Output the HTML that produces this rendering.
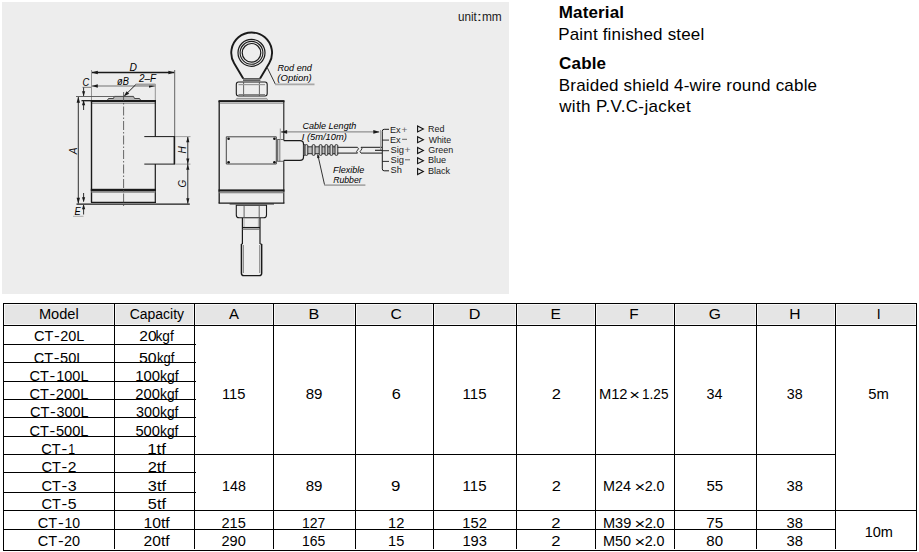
<!DOCTYPE html>
<html><head><meta charset="utf-8"><title>CT Load Cell</title>
<style>html,body{margin:0;padding:0;background:#fff;width:919px;height:552px;overflow:hidden}svg{display:block}text{font-family:"Liberation Sans",sans-serif}</style>
</head><body>
<svg width="919" height="552" viewBox="0 0 919 552" font-family='"Liberation Sans", sans-serif'><rect x="2" y="2" width="507" height="292" fill="#ededed"/>
<rect x="4" y="304" width="110" height="21" fill="#f6f6f6"/>
<rect x="5" y="305" width="108" height="19" fill="#e5e5e5"/>
<rect x="115" y="304" width="79" height="21" fill="#f6f6f6"/>
<rect x="116" y="305" width="77" height="19" fill="#e5e5e5"/>
<rect x="195" y="304" width="78" height="21" fill="#f6f6f6"/>
<rect x="196" y="305" width="76" height="19" fill="#e5e5e5"/>
<rect x="274" y="304" width="81" height="21" fill="#f6f6f6"/>
<rect x="275" y="305" width="79" height="19" fill="#e5e5e5"/>
<rect x="356" y="304" width="77" height="21" fill="#f6f6f6"/>
<rect x="357" y="305" width="75" height="19" fill="#e5e5e5"/>
<rect x="434" y="304" width="82" height="21" fill="#f6f6f6"/>
<rect x="435" y="305" width="80" height="19" fill="#e5e5e5"/>
<rect x="517" y="304" width="78" height="21" fill="#f6f6f6"/>
<rect x="518" y="305" width="76" height="19" fill="#e5e5e5"/>
<rect x="596" y="304" width="78" height="21" fill="#f6f6f6"/>
<rect x="597" y="305" width="76" height="19" fill="#e5e5e5"/>
<rect x="675" y="304" width="81" height="21" fill="#f6f6f6"/>
<rect x="676" y="305" width="79" height="19" fill="#e5e5e5"/>
<rect x="757" y="304" width="78" height="21" fill="#f6f6f6"/>
<rect x="758" y="305" width="76" height="19" fill="#e5e5e5"/>
<rect x="836" y="304" width="80" height="21" fill="#f6f6f6"/>
<rect x="837" y="305" width="78" height="19" fill="#e5e5e5"/>
<rect x="3" y="303" width="914" height="1" fill="#000"/>
<rect x="3" y="325" width="914" height="1" fill="#000"/>
<rect x="3" y="550" width="914" height="1" fill="#000"/>
<rect x="3" y="510" width="914" height="1" fill="#000"/>
<rect x="3" y="344" width="193" height="1" fill="#000"/>
<rect x="3" y="362" width="193" height="1" fill="#000"/>
<rect x="3" y="381" width="193" height="1" fill="#000"/>
<rect x="3" y="399" width="193" height="1" fill="#000"/>
<rect x="3" y="417" width="193" height="1" fill="#000"/>
<rect x="3" y="436" width="193" height="1" fill="#000"/>
<rect x="3" y="472" width="193" height="1" fill="#000"/>
<rect x="3" y="492" width="193" height="1" fill="#000"/>
<rect x="3" y="454" width="833" height="1" fill="#000"/>
<rect x="3" y="529" width="833" height="1" fill="#000"/>
<rect x="3" y="303" width="1" height="248" fill="#000"/>
<rect x="114" y="303" width="1" height="246" fill="#000"/>
<rect x="194" y="303" width="1" height="246" fill="#000"/>
<rect x="273" y="303" width="1" height="246" fill="#000"/>
<rect x="355" y="303" width="1" height="246" fill="#000"/>
<rect x="433" y="303" width="1" height="246" fill="#000"/>
<rect x="516" y="303" width="1" height="246" fill="#000"/>
<rect x="595" y="303" width="1" height="246" fill="#000"/>
<rect x="674" y="303" width="1" height="246" fill="#000"/>
<rect x="756" y="303" width="1" height="246" fill="#000"/>
<rect x="835" y="303" width="1" height="246" fill="#000"/>
<rect x="916" y="303" width="1" height="248" fill="#000"/>
<text x="38.90" y="319" font-size="14" textLength="39.77" lengthAdjust="spacingAndGlyphs">Model</text>
<text x="129.69" y="319" font-size="14" textLength="54.34" lengthAdjust="spacingAndGlyphs">Capacity</text>
<text x="228.97" y="319" font-size="14" textLength="9.96" lengthAdjust="spacingAndGlyphs">A</text>
<text x="308.47" y="319" font-size="14" textLength="10.78" lengthAdjust="spacingAndGlyphs">B</text>
<text x="390.61" y="319" font-size="14" textLength="11.29" lengthAdjust="spacingAndGlyphs">C</text>
<text x="468.67" y="319" font-size="14" textLength="11.71" lengthAdjust="spacingAndGlyphs">D</text>
<text x="550.43" y="319" font-size="14" textLength="10.34" lengthAdjust="spacingAndGlyphs">E</text>
<text x="629.24" y="319" font-size="14" textLength="9.37" lengthAdjust="spacingAndGlyphs">F</text>
<text x="708.81" y="319" font-size="14" textLength="12.15" lengthAdjust="spacingAndGlyphs">G</text>
<text x="789.22" y="319" font-size="14" textLength="11.25" lengthAdjust="spacingAndGlyphs">H</text>
<text x="878.6" y="319" font-size="14" text-anchor="middle">I</text>
<text x="33.96" y="341" font-size="15.4" textLength="19.37" lengthAdjust="spacingAndGlyphs">CT</text>
<text x="54.04" y="341" font-size="15.4" textLength="5.73" lengthAdjust="spacingAndGlyphs">-</text>
<text x="60.17" y="341" font-size="15.4" textLength="24.11" lengthAdjust="spacingAndGlyphs">20L</text>
<text x="139.32" y="341" font-size="15.4" textLength="17.29" lengthAdjust="spacingAndGlyphs">20</text>
<text x="155.48" y="341" font-size="15.4" textLength="18.30" lengthAdjust="spacingAndGlyphs">kgf</text>
<text x="33.76" y="363" font-size="15.4" textLength="19.37" lengthAdjust="spacingAndGlyphs">CT</text>
<text x="53.84" y="363" font-size="15.4" textLength="5.73" lengthAdjust="spacingAndGlyphs">-</text>
<text x="60.12" y="363" font-size="15.4" textLength="24.37" lengthAdjust="spacingAndGlyphs">50L</text>
<text x="138.96" y="363" font-size="15.4" textLength="17.66" lengthAdjust="spacingAndGlyphs">50</text>
<text x="156.92" y="363" font-size="15.4" textLength="17.36" lengthAdjust="spacingAndGlyphs">kgf</text>
<text x="29.56" y="381" font-size="15.4" textLength="19.37" lengthAdjust="spacingAndGlyphs">CT</text>
<text x="49.64" y="381" font-size="15.4" textLength="5.73" lengthAdjust="spacingAndGlyphs">-</text>
<text x="56.19" y="381" font-size="15.4" textLength="32.29" lengthAdjust="spacingAndGlyphs">100L</text>
<text x="135.17" y="381" font-size="15.4" textLength="24.81" lengthAdjust="spacingAndGlyphs">100</text>
<text x="160.06" y="381" font-size="15.4" textLength="18.62" lengthAdjust="spacingAndGlyphs">kgf</text>
<text x="29.56" y="399" font-size="15.4" textLength="19.37" lengthAdjust="spacingAndGlyphs">CT</text>
<text x="49.64" y="399" font-size="15.4" textLength="5.73" lengthAdjust="spacingAndGlyphs">-</text>
<text x="55.76" y="399" font-size="15.4" textLength="32.73" lengthAdjust="spacingAndGlyphs">200L</text>
<text x="135.25" y="399" font-size="15.4" textLength="24.72" lengthAdjust="spacingAndGlyphs">200</text>
<text x="160.08" y="399" font-size="15.4" textLength="18.30" lengthAdjust="spacingAndGlyphs">kgf</text>
<text x="30.06" y="417" font-size="15.4" textLength="19.37" lengthAdjust="spacingAndGlyphs">CT</text>
<text x="50.14" y="417" font-size="15.4" textLength="5.73" lengthAdjust="spacingAndGlyphs">-</text>
<text x="56.45" y="417" font-size="15.4" textLength="32.03" lengthAdjust="spacingAndGlyphs">300L</text>
<text x="135.95" y="417" font-size="15.4" textLength="24.01" lengthAdjust="spacingAndGlyphs">300</text>
<text x="160.08" y="417" font-size="15.4" textLength="18.30" lengthAdjust="spacingAndGlyphs">kgf</text>
<text x="29.56" y="436" font-size="15.4" textLength="19.37" lengthAdjust="spacingAndGlyphs">CT</text>
<text x="49.64" y="436" font-size="15.4" textLength="5.73" lengthAdjust="spacingAndGlyphs">-</text>
<text x="55.91" y="436" font-size="15.4" textLength="32.57" lengthAdjust="spacingAndGlyphs">500L</text>
<text x="135.41" y="436" font-size="15.4" textLength="24.56" lengthAdjust="spacingAndGlyphs">500</text>
<text x="160.08" y="436" font-size="15.4" textLength="18.30" lengthAdjust="spacingAndGlyphs">kgf</text>
<text x="41.36" y="454" font-size="15.4" textLength="19.37" lengthAdjust="spacingAndGlyphs">CT</text>
<text x="61.44" y="454" font-size="15.4" textLength="5.73" lengthAdjust="spacingAndGlyphs">-</text>
<text x="68.16" y="454" font-size="15.4" textLength="6.84" lengthAdjust="spacingAndGlyphs">1</text>
<text x="147.21" y="454" font-size="15.4" textLength="18.76" lengthAdjust="spacingAndGlyphs">1tf</text>
<text x="41.56" y="472" font-size="15.4" textLength="19.37" lengthAdjust="spacingAndGlyphs">CT</text>
<text x="61.64" y="472" font-size="15.4" textLength="5.73" lengthAdjust="spacingAndGlyphs">-</text>
<text x="67.72" y="472" font-size="15.4" textLength="8.67" lengthAdjust="spacingAndGlyphs">2</text>
<text x="147.67" y="472" font-size="15.4" textLength="18.30" lengthAdjust="spacingAndGlyphs">2tf</text>
<text x="41.56" y="491" font-size="15.4" textLength="19.37" lengthAdjust="spacingAndGlyphs">CT</text>
<text x="61.64" y="491" font-size="15.4" textLength="5.73" lengthAdjust="spacingAndGlyphs">-</text>
<text x="67.89" y="491" font-size="15.4" textLength="8.91" lengthAdjust="spacingAndGlyphs">3</text>
<text x="147.88" y="491" font-size="15.4" textLength="18.10" lengthAdjust="spacingAndGlyphs">3tf</text>
<text x="41.56" y="509" font-size="15.4" textLength="19.37" lengthAdjust="spacingAndGlyphs">CT</text>
<text x="61.64" y="509" font-size="15.4" textLength="5.73" lengthAdjust="spacingAndGlyphs">-</text>
<text x="67.87" y="509" font-size="15.4" textLength="8.80" lengthAdjust="spacingAndGlyphs">5</text>
<text x="147.85" y="509" font-size="15.4" textLength="18.13" lengthAdjust="spacingAndGlyphs">5tf</text>
<text x="37.86" y="528" font-size="15.4" textLength="19.37" lengthAdjust="spacingAndGlyphs">CT</text>
<text x="57.94" y="528" font-size="15.4" textLength="5.73" lengthAdjust="spacingAndGlyphs">-</text>
<text x="64.53" y="528" font-size="15.4" textLength="15.62" lengthAdjust="spacingAndGlyphs">10</text>
<text x="143.40" y="528" font-size="15.4" textLength="26.28" lengthAdjust="spacingAndGlyphs">10tf</text>
<text x="37.86" y="546" font-size="15.4" textLength="19.37" lengthAdjust="spacingAndGlyphs">CT</text>
<text x="57.94" y="546" font-size="15.4" textLength="5.73" lengthAdjust="spacingAndGlyphs">-</text>
<text x="64.07" y="546" font-size="15.4" textLength="16.09" lengthAdjust="spacingAndGlyphs">20</text>
<text x="143.61" y="546" font-size="15.4" textLength="26.06" lengthAdjust="spacingAndGlyphs">20tf</text>
<text x="222.03" y="399" font-size="15.4" textLength="23.46" lengthAdjust="spacingAndGlyphs">115</text>
<text x="305.64" y="399" font-size="15.4" textLength="16.77" lengthAdjust="spacingAndGlyphs">89</text>
<text x="391.67" y="399" font-size="15.4" textLength="9.04" lengthAdjust="spacingAndGlyphs">6</text>
<text x="462.61" y="399" font-size="15.4" textLength="23.89" lengthAdjust="spacingAndGlyphs">115</text>
<text x="551.67" y="399" font-size="15.4" textLength="9.16" lengthAdjust="spacingAndGlyphs">2</text>
<text x="706.45" y="399" font-size="15.4" textLength="15.97" lengthAdjust="spacingAndGlyphs">34</text>
<text x="786.76" y="399" font-size="15.4" textLength="15.86" lengthAdjust="spacingAndGlyphs">38</text>
<text x="868.21" y="399" font-size="15.4" textLength="20.57" lengthAdjust="spacingAndGlyphs">5m</text>
<text x="222.12" y="491" font-size="15.4" textLength="23.70" lengthAdjust="spacingAndGlyphs">148</text>
<text x="305.64" y="491" font-size="15.4" textLength="16.77" lengthAdjust="spacingAndGlyphs">89</text>
<text x="391.01" y="491" font-size="15.4" textLength="9.39" lengthAdjust="spacingAndGlyphs">9</text>
<text x="462.61" y="491" font-size="15.4" textLength="23.89" lengthAdjust="spacingAndGlyphs">115</text>
<text x="551.67" y="491" font-size="15.4" textLength="9.16" lengthAdjust="spacingAndGlyphs">2</text>
<text x="706.40" y="491" font-size="15.4" textLength="16.73" lengthAdjust="spacingAndGlyphs">55</text>
<text x="786.44" y="491" font-size="15.4" textLength="16.40" lengthAdjust="spacingAndGlyphs">38</text>
<text x="221.47" y="528" font-size="15.4" textLength="24.35" lengthAdjust="spacingAndGlyphs">215</text>
<text x="302.03" y="528" font-size="15.4" textLength="23.37" lengthAdjust="spacingAndGlyphs">127</text>
<text x="388.08" y="528" font-size="15.4" textLength="16.36" lengthAdjust="spacingAndGlyphs">12</text>
<text x="462.37" y="528" font-size="15.4" textLength="24.67" lengthAdjust="spacingAndGlyphs">152</text>
<text x="551.26" y="528" font-size="15.4" textLength="9.28" lengthAdjust="spacingAndGlyphs">2</text>
<text x="706.22" y="528" font-size="15.4" textLength="16.92" lengthAdjust="spacingAndGlyphs">75</text>
<text x="786.44" y="528" font-size="15.4" textLength="16.40" lengthAdjust="spacingAndGlyphs">38</text>
<text x="221.47" y="546" font-size="15.4" textLength="24.30" lengthAdjust="spacingAndGlyphs">290</text>
<text x="302.04" y="546" font-size="15.4" textLength="23.25" lengthAdjust="spacingAndGlyphs">165</text>
<text x="388.09" y="546" font-size="15.4" textLength="16.22" lengthAdjust="spacingAndGlyphs">15</text>
<text x="462.38" y="546" font-size="15.4" textLength="24.57" lengthAdjust="spacingAndGlyphs">193</text>
<text x="551.26" y="546" font-size="15.4" textLength="9.28" lengthAdjust="spacingAndGlyphs">2</text>
<text x="706.35" y="546" font-size="15.4" textLength="16.74" lengthAdjust="spacingAndGlyphs">80</text>
<text x="786.44" y="546" font-size="15.4" textLength="16.40" lengthAdjust="spacingAndGlyphs">38</text>
<text x="598.89" y="399" font-size="15.4" textLength="28.65" lengthAdjust="spacingAndGlyphs">M12</text>
<text x="629.32" y="400" font-size="15.4" textLength="10.74" lengthAdjust="spacingAndGlyphs">×</text>
<text x="642.07" y="399" font-size="15.4" textLength="26.40" lengthAdjust="spacingAndGlyphs">1.25</text>
<text x="603.02" y="491" font-size="15.4" textLength="28.00" lengthAdjust="spacingAndGlyphs">M24</text>
<text x="634.52" y="491.8" font-size="15.4" textLength="10.74" lengthAdjust="spacingAndGlyphs">×</text>
<text x="644.68" y="491" font-size="15.4" textLength="19.88" lengthAdjust="spacingAndGlyphs">2.0</text>
<text x="603.01" y="528" font-size="15.4" textLength="28.28" lengthAdjust="spacingAndGlyphs">M39</text>
<text x="634.52" y="528.8" font-size="15.4" textLength="10.74" lengthAdjust="spacingAndGlyphs">×</text>
<text x="644.68" y="528" font-size="15.4" textLength="19.88" lengthAdjust="spacingAndGlyphs">2.0</text>
<text x="603.01" y="546" font-size="15.4" textLength="28.15" lengthAdjust="spacingAndGlyphs">M50</text>
<text x="634.52" y="546.8" font-size="15.4" textLength="10.74" lengthAdjust="spacingAndGlyphs">×</text>
<text x="644.68" y="546" font-size="15.4" textLength="19.88" lengthAdjust="spacingAndGlyphs">2.0</text>
<text x="864.69" y="537" font-size="15.4" textLength="28.26" lengthAdjust="spacingAndGlyphs">10m</text>
<text x="558.74" y="17.6" font-size="17" font-weight="bold" textLength="65.28" lengthAdjust="spacing">Material</text>
<text x="558.17" y="39.6" font-size="17" textLength="146.09" lengthAdjust="spacing">Paint finished steel</text>
<text x="559.09" y="68.8" font-size="17" font-weight="bold" textLength="47.00" lengthAdjust="spacing">Cable</text>
<text x="558.77" y="90.5" font-size="17" textLength="258.30" lengthAdjust="spacing">Braided shield 4-wire round cable</text>
<text x="559.13" y="112.3" font-size="17" textLength="131.50" lengthAdjust="spacing">with P.V.C-jacket</text>
<text x="458.04" y="20.9" font-size="13" fill="#1a1a1a" textLength="18.84" lengthAdjust="spacingAndGlyphs">unit</text>
<text x="476.87" y="20.9" font-size="13" fill="#1a1a1a" textLength="5.25" lengthAdjust="spacingAndGlyphs">:</text>
<text x="481.91" y="20.9" font-size="13" fill="#1a1a1a" textLength="19.88" lengthAdjust="spacingAndGlyphs">mm</text>
<line x1="91.5" y1="70" x2="91.5" y2="101" stroke="#8a8a8a" stroke-width="0.9"/>
<line x1="174.7" y1="70" x2="174.7" y2="137" stroke="#555" stroke-width="0.9"/>
<line x1="92" y1="72.5" x2="174.2" y2="72.5" stroke="#1a1a1a" stroke-width="1.3"/>
<polygon points="91.8,72.5 97.80,70.70 97.80,74.30" fill="#1a1a1a"/>
<polygon points="174.4,72.5 168.40,74.30 168.40,70.70" fill="#1a1a1a"/>
<text x="129.58" y="70.9" font-size="10" font-style="italic" textLength="7.45" lengthAdjust="spacingAndGlyphs">D</text>
<line x1="92" y1="86" x2="155.3" y2="86" stroke="#9a9a9a" stroke-width="1.6"/>
<polygon points="91.8,86 97.80,84.20 97.80,87.80" fill="#1a1a1a"/>
<polygon points="155.0,86 149.00,87.80 149.00,84.20" fill="#1a1a1a"/>
<line x1="155.3" y1="84" x2="155.3" y2="101" stroke="#8a8a8a" stroke-width="0.9"/>
<text x="117.00" y="84.5" font-size="10" font-style="italic" textLength="11.81" lengthAdjust="spacingAndGlyphs">øB</text>
<text x="139.06" y="82.2" font-size="10" font-style="italic" textLength="17.08" lengthAdjust="spacingAndGlyphs">2–F</text>
<line x1="135.8" y1="84.6" x2="155.3" y2="84.6" stroke="#a0a0a0" stroke-width="2.2"/>
<line x1="135.8" y1="84.6" x2="125.5" y2="94.8" stroke="#1a1a1a" stroke-width="1.0"/>
<polygon points="123.6,96.6 126.69,91.15 129.18,93.75" fill="#1a1a1a"/>
<text x="82.38" y="86.3" font-size="10" font-style="italic" textLength="6.77" lengthAdjust="spacingAndGlyphs">C</text>
<line x1="82.5" y1="87.3" x2="91" y2="87.3" stroke="#777" stroke-width="1.0"/>
<line x1="83.6" y1="87.5" x2="83.6" y2="96" stroke="#1a1a1a" stroke-width="0.9"/>
<polygon points="83.6,96.3 82.00,91.30 85.20,91.30" fill="#1a1a1a"/>
<line x1="83.6" y1="101" x2="83.6" y2="110" stroke="#1a1a1a" stroke-width="0.9"/>
<polygon points="83.6,100.3 85.20,105.30 82.00,105.30" fill="#1a1a1a"/>
<line x1="76" y1="96.5" x2="114" y2="96.5" stroke="#555" stroke-width="0.9"/>
<line x1="81.5" y1="100.7" x2="92" y2="100.7" stroke="#1a1a1a" stroke-width="1.3"/>
<line x1="78.3" y1="97" x2="78.3" y2="203.5" stroke="#1a1a1a" stroke-width="0.9"/>
<polygon points="78.3,96.8 80.00,102.80 76.60,102.80" fill="#1a1a1a"/>
<polygon points="78.3,203.8 76.60,197.80 80.00,197.80" fill="#1a1a1a"/>
<g transform="translate(77.2 151) rotate(-90)"><text x="0" y="0" font-size="10" text-anchor="middle" font-style="italic" fill="#111">A</text></g>
<rect x="90.8" y="100" width="65.2" height="2.2" fill="#1a1a1a"/>
<line x1="91.5" y1="103.5" x2="155.3" y2="103.5" stroke="#9c9c9c" stroke-width="1.0"/>
<line x1="91.5" y1="101" x2="91.5" y2="202.5" stroke="#1a1a1a" stroke-width="1.4"/>
<line x1="155.3" y1="101" x2="155.3" y2="136.5" stroke="#1a1a1a" stroke-width="1.2"/>
<line x1="155.3" y1="164" x2="155.3" y2="202.5" stroke="#1a1a1a" stroke-width="1.2"/>
<polyline points="107.5,100 108.5,98.5 113.5,98.5 114.3,96.4 133.5,96.4 134.5,98.5 139.5,98.5 140.5,100" stroke="#333" stroke-width="0.9" fill="#b8b8b8" stroke-linejoin="round"/>
<rect x="90.8" y="188.8" width="65.2" height="2.2" fill="#1a1a1a"/>
<rect x="91.5" y="191" width="63.8" height="1.8" fill="#8a8a8a"/>
<line x1="91" y1="202.4" x2="156" y2="202.4" stroke="#1a1a1a" stroke-width="1.4"/>
<line x1="76.5" y1="204.2" x2="189.8" y2="204.2" stroke="#1a1a1a" stroke-width="1.2"/>
<line x1="123.6" y1="92" x2="123.6" y2="208" stroke="#444" stroke-width="0.8" stroke-dasharray="9,2,1.5,2"/>
<line x1="144.3" y1="136.6" x2="175" y2="136.6" stroke="#1a1a1a" stroke-width="1.0"/>
<line x1="144.3" y1="164.1" x2="175" y2="164.1" stroke="#1a1a1a" stroke-width="1.0"/>
<line x1="174.4" y1="136.6" x2="174.4" y2="164.1" stroke="#1a1a1a" stroke-width="1.6"/>
<line x1="175" y1="136.6" x2="190.5" y2="136.6" stroke="#8a8a8a" stroke-width="0.8"/>
<line x1="175" y1="164.1" x2="190.5" y2="164.1" stroke="#8a8a8a" stroke-width="0.8"/>
<line x1="187.8" y1="137" x2="187.8" y2="203.5" stroke="#1a1a1a" stroke-width="0.9"/>
<polygon points="187.8,136.8 189.40,142.30 186.20,142.30" fill="#1a1a1a"/>
<polygon points="187.8,163.9 186.20,158.40 189.40,158.40" fill="#1a1a1a"/>
<polygon points="187.8,164.3 189.40,169.80 186.20,169.80" fill="#1a1a1a"/>
<polygon points="187.8,203.8 186.20,198.30 189.40,198.30" fill="#1a1a1a"/>
<g transform="translate(186.2 150) rotate(-90)"><text x="0" y="0" font-size="10" text-anchor="middle" font-style="italic" fill="#111">H</text></g>
<g transform="translate(186.3 183.6) rotate(-90)"><text x="0" y="0" font-size="10" text-anchor="middle" font-style="italic" fill="#111">G</text></g>
<line x1="83.6" y1="193" x2="83.6" y2="201.5" stroke="#1a1a1a" stroke-width="0.9"/>
<polygon points="83.6,202.2 82.00,197.20 85.20,197.20" fill="#1a1a1a"/>
<line x1="83.6" y1="205" x2="83.6" y2="214.5" stroke="#1a1a1a" stroke-width="0.9"/>
<polygon points="83.6,204.3 85.20,209.30 82.00,209.30" fill="#1a1a1a"/>
<text x="74.51" y="215" font-size="10" font-style="italic" textLength="6.20" lengthAdjust="spacingAndGlyphs">E</text>
<line x1="73" y1="216.3" x2="83.5" y2="216.3" stroke="#aaa" stroke-width="1.0"/>
<path d="M 243.2,78.6 L 234.12,63.33 A 20.4 20.4 0 1 1 269.18,63.33 L 260.1,78.6" stroke="#1a1a1a" stroke-width="1.9" fill="none"/>
<line x1="243" y1="78.8" x2="260.4" y2="78.8" stroke="#1a1a1a" stroke-width="1.0"/>
<line x1="243" y1="80.2" x2="260.4" y2="80.2" stroke="#222" stroke-width="1.0"/>
<circle cx="251.5" cy="52.8" r="13.5" stroke="#1a1a1a" stroke-width="1.2" fill="none"/>
<circle cx="251.5" cy="52.8" r="11.4" stroke="#1a1a1a" stroke-width="1.1" fill="none"/>
<circle cx="251.5" cy="52.8" r="9.3" stroke="#1a1a1a" stroke-width="1.2" fill="none"/>
<path d="M 238.5,82 L 265,82 Q 267.2,82 267.2,84.5 L 267.2,93.5 Q 267.2,96 265,96 L 238.5,96 Q 236.3,96 236.3,93.5 L 236.3,84.5 Q 236.3,82 238.5,82 Z" stroke="#1a1a1a" stroke-width="1.1" fill="#ededed"/>
<line x1="243.6" y1="82" x2="243.6" y2="96" stroke="#555" stroke-width="0.9"/>
<line x1="259.4" y1="82" x2="259.4" y2="96" stroke="#555" stroke-width="0.9"/>
<polyline points="235.8,99.9 236.8,98.4 266.7,98.4 267.7,99.9" stroke="#777" stroke-width="0.7" fill="#c8c8c8" stroke-linejoin="round"/>
<line x1="238.5" y1="84.6" x2="265" y2="84.6" stroke="#999" stroke-width="1.2"/>
<line x1="238.5" y1="94.5" x2="265" y2="94.5" stroke="#777" stroke-width="0.9"/>
<rect x="218.5" y="100.1" width="66" height="2.1" fill="#1a1a1a"/>
<line x1="220" y1="103.4" x2="283" y2="103.4" stroke="#999" stroke-width="0.9"/>
<line x1="219.2" y1="101" x2="219.2" y2="203.3" stroke="#1a1a1a" stroke-width="1.3"/>
<line x1="283.8" y1="101" x2="283.8" y2="140.6" stroke="#1a1a1a" stroke-width="1.1"/>
<line x1="283.8" y1="160.4" x2="283.8" y2="203.3" stroke="#1a1a1a" stroke-width="1.1"/>
<rect x="218.5" y="189.4" width="66" height="2.2" fill="#1a1a1a"/>
<rect x="219.5" y="191.6" width="64" height="1.7" fill="#8c8c8c"/>
<line x1="218.6" y1="203.2" x2="284.4" y2="203.2" stroke="#1a1a1a" stroke-width="1.3"/>
<path d="M 226.3,136.8 L 276.3,136.8 L 276.3,164 L 226.3,164 Z" stroke="#333" stroke-width="0.9" fill="none"/>
<circle cx="228.6" cy="138.8" r="1.3" fill="#111"/>
<circle cx="274.4" cy="138.8" r="1.3" fill="#111"/>
<circle cx="228.6" cy="162.2" r="1.3" fill="#111"/>
<circle cx="274.4" cy="162.2" r="1.3" fill="#111"/>
<rect x="277.3" y="139.5" width="3.2" height="21.8" fill="#c8c8c8"/>
<line x1="277.5" y1="139.5" x2="277.5" y2="161.3" stroke="#555" stroke-width="0.8"/>
<line x1="279.7" y1="139.5" x2="279.7" y2="161.3" stroke="#9a9a9a" stroke-width="1.2"/>
<line x1="277.3" y1="139.5" x2="284" y2="139.5" stroke="#444" stroke-width="0.8"/>
<line x1="277.3" y1="161.3" x2="284" y2="161.3" stroke="#444" stroke-width="0.8"/>
<path d="M 283.8,140.6 L 300,140.6 Q 303.5,140.6 303.5,144 L 303.5,157 Q 303.5,160.4 300,160.4 L 283.8,160.4" stroke="#1a1a1a" stroke-width="1.2" fill="#ededed"/>
<path d="M 303.5,145.2 L 305,144.4 L 305,155.6 L 303.5,154.8 Z" stroke="#333" stroke-width="0.8" fill="#cfcfcf"/>
<rect x="305" y="146.8" width="32.5" height="6.9" fill="#bdbdbd"/>
<line x1="305" y1="146.8" x2="337.5" y2="146.8" stroke="#222" stroke-width="0.9"/>
<line x1="305" y1="153.7" x2="337.5" y2="153.7" stroke="#222" stroke-width="0.9"/>
<rect x="305.0" y="144.6" width="2.8" height="10.8" rx="1.2" fill="#d6d6d6" stroke="#1e1e1e" stroke-width="0.9"/>
<rect x="312.2" y="144.6" width="2.8" height="10.8" rx="1.2" fill="#d6d6d6" stroke="#1e1e1e" stroke-width="0.9"/>
<rect x="319.2" y="144.6" width="2.8" height="10.8" rx="1.2" fill="#d6d6d6" stroke="#1e1e1e" stroke-width="0.9"/>
<rect x="325.0" y="144.6" width="2.8" height="10.8" rx="1.2" fill="#d6d6d6" stroke="#1e1e1e" stroke-width="0.9"/>
<rect x="330.0" y="144.6" width="2.8" height="10.8" rx="1.2" fill="#d6d6d6" stroke="#1e1e1e" stroke-width="0.9"/>
<rect x="335.0" y="144.6" width="2.8" height="10.8" rx="1.2" fill="#d6d6d6" stroke="#1e1e1e" stroke-width="0.9"/>
<line x1="337.7" y1="147.3" x2="357.5" y2="147.3" stroke="#1a1a1a" stroke-width="1.0"/>
<line x1="337.7" y1="153.1" x2="357.5" y2="153.1" stroke="#1a1a1a" stroke-width="1.0"/>
<path d="M 357.5,147.3 q 2,1.5 0,2.9 q -2,1.5 0,2.9" stroke="#222" stroke-width="0.9" fill="none"/>
<path d="M 361,147.3 q 2,1.5 0,2.9 q -2,1.5 0,2.9" stroke="#222" stroke-width="0.9" fill="none"/>
<line x1="361" y1="147.3" x2="382" y2="147.3" stroke="#1a1a1a" stroke-width="1.0"/>
<line x1="361" y1="153.1" x2="382" y2="153.1" stroke="#1a1a1a" stroke-width="1.0"/>
<line x1="229.6" y1="204.0" x2="274.0" y2="204.0" stroke="#2a2a2a" stroke-width="1.0"/>
<line x1="238.5" y1="206.6" x2="264.5" y2="206.6" stroke="#999" stroke-width="0.9"/>
<path d="M 236.3,205.3 L 266.5,205.3 L 266.5,215 Q 266.5,217.8 263.7,217.8 L 239.1,217.8 Q 236.3,217.8 236.3,215 Z" stroke="#1a1a1a" stroke-width="1.1" fill="#ededed"/>
<line x1="244.1" y1="205.3" x2="244.1" y2="217.8" stroke="#555" stroke-width="0.9"/>
<line x1="259.2" y1="205.3" x2="259.2" y2="217.8" stroke="#555" stroke-width="0.9"/>
<line x1="242.4" y1="218" x2="242.4" y2="244" stroke="#1a1a1a" stroke-width="1.2"/>
<line x1="260.0" y1="218" x2="260.0" y2="244" stroke="#1a1a1a" stroke-width="1.2"/>
<line x1="244.0" y1="218" x2="244.0" y2="227" stroke="#999" stroke-width="0.8"/>
<line x1="258.4" y1="218" x2="258.4" y2="227" stroke="#999" stroke-width="0.8"/>
<line x1="242.4" y1="227.6" x2="260.0" y2="227.6" stroke="#1a1a1a" stroke-width="1.3"/>
<line x1="242.4" y1="229.3" x2="260.0" y2="229.3" stroke="#666" stroke-width="0.9"/>
<path d="M 241.4,244 L 241.4,273.2 Q 241.4,275.6 243.8,275.6 L 259.3,275.6 Q 261.7,275.6 261.7,273.2 L 261.7,244" stroke="#1a1a1a" stroke-width="1.4" fill="none"/>
<line x1="243.3" y1="245" x2="243.3" y2="273" stroke="#666" stroke-width="0.9"/>
<line x1="259.8" y1="245" x2="259.8" y2="273" stroke="#666" stroke-width="0.9"/>
<line x1="241.4" y1="244" x2="242.4" y2="244" stroke="#1a1a1a" stroke-width="1.0"/>
<line x1="260.0" y1="244" x2="261.7" y2="244" stroke="#1a1a1a" stroke-width="1.0"/>
<line x1="267.2" y1="67.5" x2="275.4" y2="84.2" stroke="#333" stroke-width="1.0"/>
<line x1="275.0" y1="84.3" x2="314.5" y2="84.3" stroke="#a8a8a8" stroke-width="1.8"/>
<text x="277.52" y="70.6" font-size="9.6" font-style="italic" textLength="34.24" lengthAdjust="spacingAndGlyphs">Rod end</text>
<text x="277.35" y="80.8" font-size="9.6" font-style="italic" textLength="34.41" lengthAdjust="spacingAndGlyphs">(Option)</text>
<line x1="280.3" y1="128.5" x2="280.3" y2="140" stroke="#999" stroke-width="1.0"/>
<line x1="281" y1="131.9" x2="379" y2="131.9" stroke="#8f8f8f" stroke-width="1.4"/>
<polygon points="280.6,131.9 287.10,130.10 287.10,133.70" fill="#1a1a1a"/>
<polygon points="379.8,131.9 373.30,133.70 373.30,130.10" fill="#1a1a1a"/>
<text x="302.40" y="129.3" font-size="9.6" font-style="italic" textLength="53.81" lengthAdjust="spacingAndGlyphs">Cable Length</text>
<text x="301.83" y="140.2" font-size="9.6" font-style="italic" textLength="45.02" lengthAdjust="spacingAndGlyphs">I (5m/10m)</text>
<line x1="317.8" y1="154.8" x2="324.6" y2="185.0" stroke="#333" stroke-width="1.0"/>
<line x1="324.2" y1="185.2" x2="365.4" y2="185.2" stroke="#a8a8a8" stroke-width="1.8"/>
<polygon points="317.6,154.0 319.83,157.61 317.09,158.21" fill="#1a1a1a"/>
<text x="333.12" y="172.7" font-size="9.6" font-style="italic" textLength="31.21" lengthAdjust="spacingAndGlyphs">Flexible</text>
<text x="333.13" y="182.5" font-size="9.6" font-style="italic" textLength="28.57" lengthAdjust="spacingAndGlyphs">Rubber</text>
<line x1="380.6" y1="130" x2="380.6" y2="150" stroke="#9c9c9c" stroke-width="1.0"/>
<path d="M 389,129.3 L 384.2,129.3 Q 382.3,129.3 382.3,131.2 L 382.3,168.9 Q 382.3,170.8 384.2,170.8 L 389,170.8" stroke="#1a1a1a" stroke-width="1.0" fill="none"/>
<line x1="382.3" y1="140.1" x2="389" y2="140.1" stroke="#1a1a1a" stroke-width="0.9"/>
<line x1="382.3" y1="150.7" x2="389" y2="150.7" stroke="#1a1a1a" stroke-width="0.9"/>
<line x1="382.3" y1="161.4" x2="389" y2="161.4" stroke="#1a1a1a" stroke-width="0.9"/>
<line x1="375" y1="150.3" x2="382.3" y2="150.3" stroke="#1a1a1a" stroke-width="1.1"/>
<text x="389.95" y="132.6" font-size="9.6" fill="#1a1a1a" textLength="10.65" lengthAdjust="spacingAndGlyphs">Ex</text>
<text x="401.61" y="132.6" font-size="9.6" fill="#666" textLength="5.89" lengthAdjust="spacingAndGlyphs">+</text>
<text x="389.95" y="142.6" font-size="9.6" fill="#1a1a1a" textLength="10.65" lengthAdjust="spacingAndGlyphs">Ex</text>
<line x1="402.1" y1="139.29999999999998" x2="407.0" y2="139.29999999999998" stroke="#666" stroke-width="1.0"/>
<text x="390.47" y="152.8" font-size="9.6" fill="#1a1a1a" textLength="13.53" lengthAdjust="spacingAndGlyphs">Sig</text>
<text x="404.50" y="152.8" font-size="9.6" fill="#666" textLength="6.01" lengthAdjust="spacingAndGlyphs">+</text>
<text x="390.47" y="163.1" font-size="9.6" fill="#1a1a1a" textLength="13.53" lengthAdjust="spacingAndGlyphs">Sig</text>
<line x1="405.0" y1="159.79999999999998" x2="410.0" y2="159.79999999999998" stroke="#666" stroke-width="1.0"/>
<text x="390.48" y="173.4" font-size="9.6" fill="#1a1a1a" textLength="11.32" lengthAdjust="spacingAndGlyphs">Sh</text>
<polygon points="417.6,125.9 423.4,128.9 417.6,131.9" fill="none" stroke="#111" stroke-width="1.1"/>
<text x="427.97" y="132.3" font-size="9.6" fill="#1a1a1a" textLength="16.41" lengthAdjust="spacingAndGlyphs">Red</text>
<polygon points="417.6,136.7 423.4,139.7 417.6,142.7" fill="none" stroke="#111" stroke-width="1.1"/>
<text x="428.66" y="142.7" font-size="9.6" fill="#1a1a1a" textLength="22.43" lengthAdjust="spacingAndGlyphs">White</text>
<polygon points="417.6,147.5 423.4,150.5 417.6,153.5" fill="none" stroke="#111" stroke-width="1.1"/>
<text x="428.25" y="152.8" font-size="9.6" fill="#1a1a1a" textLength="24.93" lengthAdjust="spacingAndGlyphs">Green</text>
<polygon points="417.6,157.7 423.4,160.7 417.6,163.7" fill="none" stroke="#111" stroke-width="1.1"/>
<text x="427.95" y="163.4" font-size="9.6" fill="#1a1a1a" textLength="18.25" lengthAdjust="spacingAndGlyphs">Blue</text>
<polygon points="417.6,168.5 423.4,171.5 417.6,174.5" fill="none" stroke="#111" stroke-width="1.1"/>
<text x="427.95" y="173.8" font-size="9.6" fill="#1a1a1a" textLength="22.23" lengthAdjust="spacingAndGlyphs">Black</text></svg>
</body></html>
